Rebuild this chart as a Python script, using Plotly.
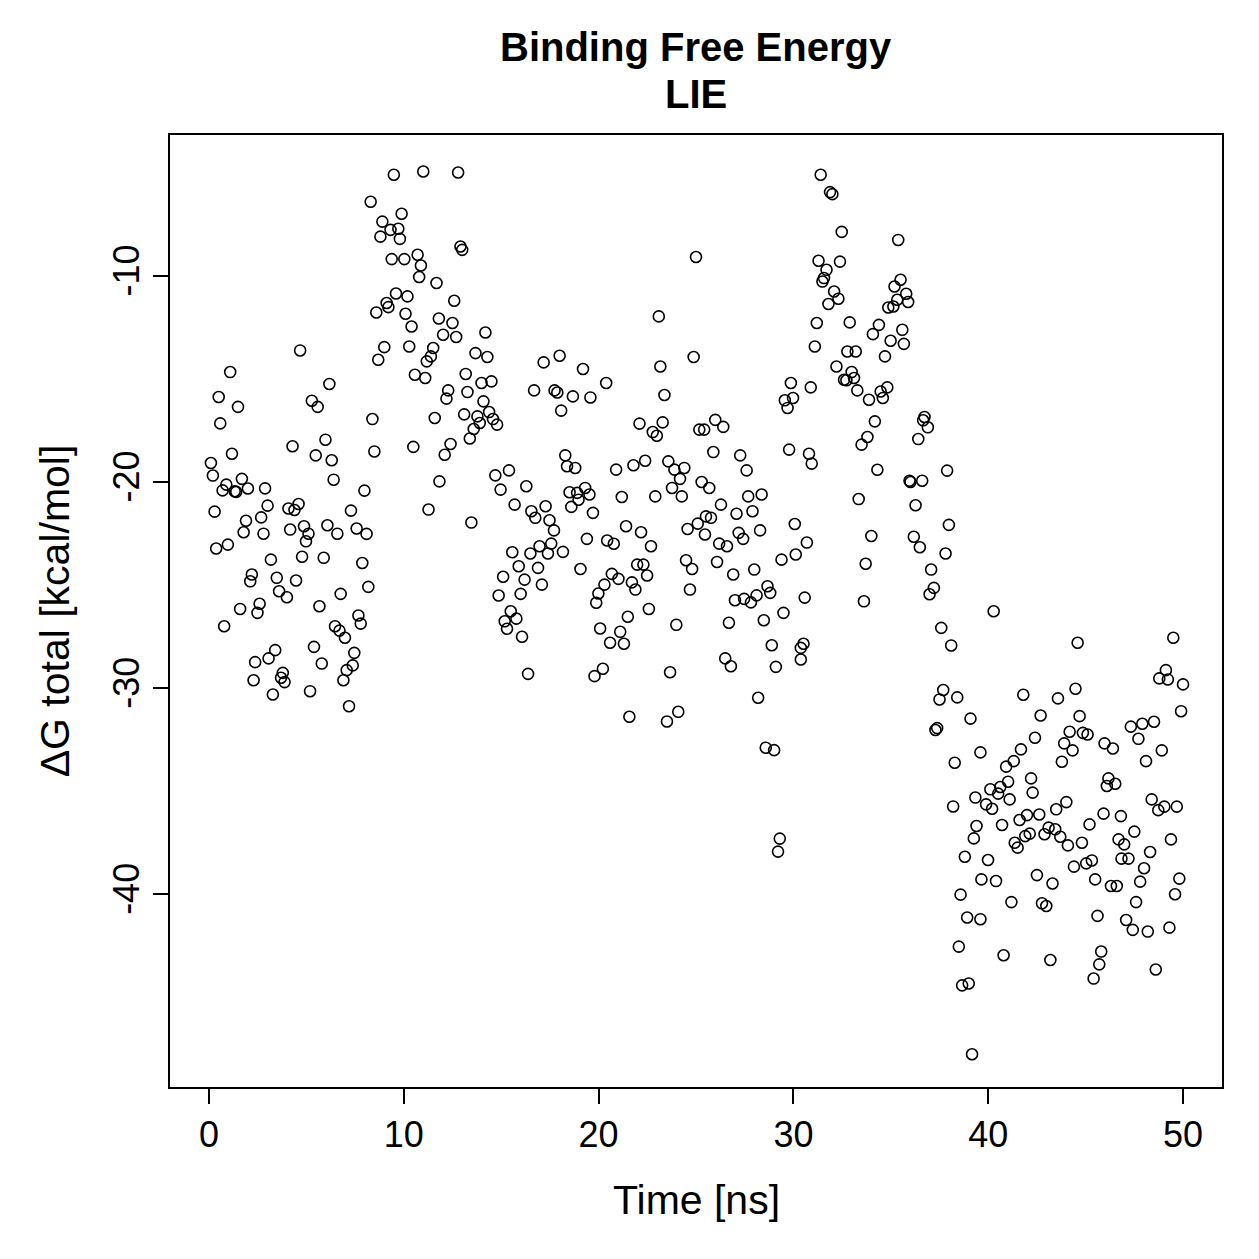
import plotly.graph_objects as go

# Time [ns] and ΔG total [kcal/mol]
time_ns = [
    4.68, 1.09, 6.18, 0.50, 1.49, 5.28, 5.58, 0.58, 4.29, 5.98,
    1.18, 5.48, 6.30, 0.10, 0.20, 1.69, 0.89, 0.70, 1.32, 1.40,
    2.00, 2.88, 6.40, 3.01, 2.68, 0.29, 4.08, 4.39, 4.60, 1.90,
    7.98, 7.29, 1.78, 2.80, 4.17, 4.88, 5.11, 4.98, 6.08, 6.59,
    7.58, 8.09, 0.37, 0.97, 3.18, 4.78, 5.89, 7.87, 2.20, 2.12,
    3.48, 4.47, 3.60, 4.00, 8.18, 6.76, 1.60, 2.60, 2.49, 5.67,
    0.78, 7.67, 7.79, 6.47, 6.70, 6.98, 3.40, 3.06, 2.37, 5.39,
    5.79, 7.46, 7.38, 7.07, 2.29, 3.79, 3.70, 3.88, 6.90, 3.28,
    5.19, 7.19, 9.49, 8.30, 8.90, 9.32, 9.72, 8.80, 9.80, 9.38,
    9.60, 9.12, 9.21, 8.59, 9.00, 8.69, 8.39, 8.49, 11.00, 12.79,
    9.89, 10.03, 12.91, 13.00, 10.71, 10.88, 10.79, 11.68, 10.19, 10.09,
    12.59, 10.40, 11.80, 12.50, 12.02, 12.69, 14.19, 10.28, 11.51, 11.39,
    11.18, 13.68, 14.29, 10.57, 11.10, 13.18, 13.99, 14.50, 16.69, 12.28,
    12.19, 13.27, 14.09, 11.59, 13.10, 13.78, 13.90, 14.38, 14.58, 14.79,
    13.59, 13.39, 10.49, 12.40, 12.10, 11.83, 11.27, 13.47, 14.70, 15.40,
    14.97, 16.29, 15.69, 15.57, 16.50, 15.90, 15.10, 16.20, 14.87, 16.00,
    15.49, 15.18, 15.78, 15.30, 16.07, 16.38, 17.18, 18.00, 19.20, 17.74,
    17.88, 18.68, 19.58, 18.08, 18.29, 18.38, 18.80, 16.55, 16.75, 17.28,
    18.51, 18.90, 19.31, 19.53, 18.60, 18.97, 19.71, 17.48, 17.71, 16.97,
    17.57, 17.40, 18.17, 19.40, 16.89, 19.07, 17.09, 19.99, 19.88, 20.08,
    19.79, 25.00, 23.09, 24.88, 23.17, 20.39, 23.38, 22.10, 22.78, 22.99,
    23.29, 25.17, 20.90, 21.79, 22.39, 23.58, 23.89, 24.40, 24.18, 25.29,
    23.77, 21.19, 22.91, 24.27, 21.41, 22.18, 22.69, 20.44, 20.78, 24.57,
    25.09, 24.49, 24.80, 21.98, 22.30, 22.49, 20.68, 21.02, 20.30, 21.71,
    21.89, 24.69, 22.58, 21.50, 21.11, 20.59, 21.30, 23.99, 20.22, 23.67,
    21.58, 24.09, 23.51, 25.42, 25.99, 26.40, 29.87, 29.56, 29.98, 29.70,
    29.78, 25.89, 27.27, 27.60, 25.68, 26.28, 27.68, 28.37, 27.08, 27.90,
    25.51, 25.77, 25.46, 26.19, 26.59, 27.19, 27.42, 28.29, 30.07, 30.12,
    29.39, 26.08, 26.91, 27.99, 27.00, 27.47, 27.82, 28.11, 28.67, 28.81,
    26.69, 28.48, 29.49, 28.89, 29.10, 26.50, 26.79, 28.19, 28.58, 29.01,
    29.30, 29.21, 30.69, 30.58, 30.38, 30.52, 30.38, 31.40, 31.88, 32.00,
    32.48, 35.38, 31.29, 32.39, 31.70, 31.57, 31.49, 32.09, 32.31, 31.80,
    35.50, 35.19, 35.79, 35.89, 35.33, 35.13, 34.87, 31.20, 32.89, 34.39,
    34.08, 35.59, 35.67, 34.99, 34.70, 31.10, 32.77, 33.20, 32.21, 32.99,
    33.11, 32.60, 32.72, 33.28, 33.88, 34.48, 34.82, 34.59, 30.89, 34.18,
    33.80, 33.50, 36.73, 36.66, 36.90, 36.41, 30.80, 30.94, 34.31, 36.01,
    35.96, 36.61, 37.89, 33.35, 36.27, 34.00, 36.18, 36.49, 37.98, 37.81,
    33.71, 37.07, 37.21, 36.99, 33.62, 37.59, 38.10, 37.69, 37.50, 38.41,
    39.09, 37.38, 37.29, 39.60, 38.28, 38.20, 39.34, 39.40, 39.26, 38.80,
    39.65, 38.58, 38.92, 39.60, 38.49, 38.66, 39.00, 39.17, 40.28, 44.59,
    49.50, 49.12, 48.78, 49.22, 50.00, 49.90, 41.80, 43.58, 44.48, 42.69,
    44.69, 44.18, 44.86, 45.10, 43.90, 44.33, 43.78, 42.40, 41.68, 41.31,
    40.92, 47.32, 47.91, 48.51, 47.71, 45.97, 46.40, 48.91, 48.10, 42.20,
    41.02, 40.62, 40.11, 40.51, 42.28, 41.10, 39.89, 40.20, 46.17, 46.09,
    46.52, 44.01, 43.49, 48.39, 48.73, 49.04, 49.68, 40.71, 41.61, 41.99,
    42.62, 41.36, 41.51, 41.90, 42.13, 42.89, 43.10, 43.44, 43.70, 44.09,
    44.81, 45.20, 45.92, 46.81, 46.69, 46.98, 47.50, 49.38, 48.31, 46.84,
    47.20, 48.00, 47.80, 44.40, 45.03, 45.32, 45.49, 46.30, 46.60, 49.81,
    49.59, 47.59, 39.99, 42.50, 43.30, 40.40, 41.19, 42.76, 42.98, 45.61,
    47.08, 47.42, 48.19, 49.30, 40.79, 43.19, 45.80, 45.70, 45.41, 48.60,
]

dg_total = [
    -13.62, -14.67, -15.25, -15.88, -16.36, -16.06, -16.36, -17.16, -18.27, -17.95,
    -18.63, -18.71, -18.95, -19.08, -19.69, -19.85, -20.13, -20.41, -20.45, -20.48,
    -20.32, -20.31, -19.89, -21.15, -21.72, -21.44, -21.29, -21.36, -21.07, -21.88,
    -20.42, -21.39, -22.44, -22.51, -22.31, -22.15, -22.51, -22.88, -22.10, -22.51,
    -22.26, -22.52, -23.23, -23.04, -23.77, -23.63, -23.68, -23.93, -24.49, -24.82,
    -24.65, -24.78, -25.30, -25.59, -25.09, -25.43, -26.16, -25.91, -26.35, -26.03,
    -27.00, -26.48, -26.87, -27.00, -27.21, -27.56, -28.16, -28.56, -28.74, -28.00,
    -28.81, -28.29, -28.90, -29.13, -29.62, -29.26, -29.50, -29.71, -29.62, -30.31,
    -30.15, -30.88, -5.10, -6.41, -7.37, -7.77, -7.72, -8.10, -8.21, -9.19,
    -10.86, -11.32, -11.52, -11.78, -13.46, -14.07, -16.95, -18.52, -4.94, -4.99,
    -6.99, -9.19, -8.58, -8.74, -8.98, -9.50, -10.06, -10.35, -11.00, -11.84,
    -11.21, -12.46, -12.07, -12.29, -12.86, -12.97, -12.75, -13.43, -13.50, -13.91,
    -14.15, -13.75, -13.94, -14.80, -14.96, -14.76, -15.20, -15.12, -15.56, -15.56,
    -15.96, -15.64, -16.09, -16.90, -16.72, -16.82, -17.14, -16.61, -16.95, -17.22,
    -17.43, -17.89, -18.30, -18.16, -18.68, -19.97, -21.34, -21.97, -19.68, -19.44,
    -20.37, -20.21, -21.10, -23.41, -23.47, -24.09, -24.60, -24.74, -25.51, -25.43,
    -26.27, -26.76, -26.63, -27.12, -27.51, -29.31, -14.20, -13.88, -14.52, -15.56,
    -15.66, -15.85, -15.90, -16.54, -18.71, -19.24, -19.32, -21.42, -21.74, -21.18,
    -20.50, -20.53, -20.29, -20.61, -21.21, -20.86, -21.50, -21.86, -22.35, -23.12,
    -22.99, -23.47, -23.39, -22.76, -24.17, -24.22, -24.98, -25.41, -25.86, -27.11,
    -29.42, -9.09, -11.97, -13.94, -14.40, -15.20, -15.78, -17.17, -17.58, -17.76,
    -17.11, -17.46, -19.40, -19.19, -18.97, -19.00, -19.40, -19.32, -19.85, -20.00,
    -20.29, -20.73, -20.70, -20.70, -22.15, -22.44, -23.12, -22.84, -23.00, -22.28,
    -22.02, -23.80, -24.22, -24.01, -24.01, -24.54, -24.46, -24.70, -24.98, -24.87,
    -25.22, -25.22, -26.16, -26.54, -27.27, -27.80, -27.85, -26.93, -29.06, -29.23,
    -31.39, -31.15, -31.62, -17.46, -16.99, -17.33, -15.20, -16.04, -15.93, -16.41,
    -18.43, -18.55, -18.71, -19.44, -20.29, -21.10, -20.70, -20.61, -21.54, -21.42,
    -21.67, -21.74, -22.55, -22.99, -23.12, -22.47, -22.76, -22.35, -22.04, -23.52,
    -23.77, -23.88, -24.49, -24.25, -25.74, -25.67, -25.84, -25.50, -25.06, -25.38,
    -26.83, -26.71, -26.35, -27.92, -28.97, -28.56, -28.94, -30.47, -32.89, -33.01,
    -37.30, -37.93, -22.94, -25.61, -28.05, -27.85, -28.61, -5.10, -5.94, -6.04,
    -7.87, -8.26, -9.27, -9.31, -9.71, -10.11, -10.28, -10.76, -11.11, -11.37,
    -10.19, -10.52, -10.87, -11.27, -11.16, -11.49, -11.54, -12.29, -12.26, -12.38,
    -12.83, -12.62, -13.30, -13.15, -13.91, -13.43, -13.67, -13.67, -14.40, -14.67,
    -14.96, -15.04, -15.07, -15.56, -16.01, -15.61, -15.41, -15.93, -15.41, -17.06,
    -17.82, -18.19, -16.85, -17.01, -17.35, -17.92, -18.63, -19.11, -19.41, -20.00,
    -19.94, -19.94, -19.45, -20.83, -21.13, -22.62, -22.66, -23.17, -22.08, -23.47,
    -23.97, -24.25, -25.14, -25.45, -25.79, -27.08, -27.93, -30.09, -30.55, -30.45,
    -31.48, -31.94, -32.03, -33.12, -33.62, -35.74, -35.31, -36.69, -37.29, -38.18,
    -39.28, -40.02, -41.13, -41.21, -42.54, -44.42, -44.33, -47.76, -26.27, -27.80,
    -27.56, -29.13, -29.53, -29.58, -29.82, -31.12, -30.32, -30.50, -30.03, -31.33,
    -31.36, -32.12, -32.17, -32.25, -32.68, -33.02, -33.57, -32.41, -32.97, -33.54,
    -33.81, -31.87, -31.73, -31.63, -32.46, -32.68, -32.93, -33.02, -33.54, -34.38,
    -34.54, -34.80, -34.91, -35.12, -35.07, -35.40, -35.64, -35.85, -34.38, -34.75,
    -34.64, -35.53, -35.88, -35.40, -35.92, -35.75, -35.75, -36.64, -36.40, -36.16,
    -36.13, -37.50, -37.74, -37.18, -37.06, -37.09, -36.77, -36.85, -37.21, -37.63,
    -37.50, -36.61, -36.09, -36.21, -37.34, -37.58, -36.96, -37.34, -37.95, -38.27,
    -38.27, -38.74, -39.39, -38.66, -38.50, -38.36, -39.28, -39.60, -39.60, -39.24,
    -40.00, -40.38, -38.34, -39.07, -39.48, -39.36, -40.38, -40.44, -40.57, -41.05,
    -41.25, -41.73, -41.81, -41.62, -42.96, -43.19, -42.78, -43.40, -44.09, -43.65,
]

x_ticks = [0, 10, 20, 30, 40, 50]
y_ticks = [-10, -20, -30, -40]

title_lines = ["Binding Free Energy", "LIE"]
x_title = "Time [ns]"
y_title = "ΔG total [kcal/mol]"

FONT = "Liberation Sans, Arial, Helvetica, sans-serif"

fig = go.Figure(
    go.Scatter(
        x=time_ns,
        y=dg_total,
        mode="markers",
        marker=dict(symbol="circle-open", size=11, color="black",
                    line=dict(width=1.6, color="black")),
        showlegend=False,
    )
)

axis_common = dict(
    showline=True, linecolor="black", linewidth=2, mirror=True,
    ticks="outside", ticklen=15, tickwidth=2, tickcolor="black",
    showgrid=False, zeroline=False,
    tickfont=dict(family=FONT, size=36, color="black"),
)

fig.update_layout(
    width=1259, height=1259,
    margin=dict(l=170, r=37, t=135, b=172),
    paper_bgcolor="white", plot_bgcolor="white",
    font=dict(family=FONT, color="black"),
    xaxis=dict(range=[-2, 52], tickvals=x_ticks, ticktext=[str(v) for v in x_ticks], **axis_common),
    yaxis=dict(range=[-49.35, -3.17], tickvals=y_ticks, ticktext=[str(v) for v in y_ticks],
               tickangle=-90, **axis_common),
    annotations=[
        dict(text="<b>" + title_lines[0] + "</b>", xref="paper", yref="paper", x=0.5, y=1.0924,
             xanchor="center", yanchor="middle", showarrow=False,
             font=dict(family=FONT, size=40, color="black")),
        dict(text="<b>" + title_lines[1] + "</b>", xref="paper", yref="paper", x=0.5, y=1.0431,
             xanchor="center", yanchor="middle", showarrow=False,
             font=dict(family=FONT, size=40, color="black")),
        dict(text=x_title, xref="paper", yref="paper", x=0.5, y=-0.119,
             xanchor="center", yanchor="middle", showarrow=False,
             font=dict(family=FONT, size=41, color="black")),
        dict(text=y_title, xref="paper", yref="paper", x=-0.109, y=0.5,
             xanchor="center", yanchor="middle", textangle=-90, showarrow=False,
             font=dict(family=FONT, size=41, color="black")),
    ],
)

fig.write_html("out.html")
